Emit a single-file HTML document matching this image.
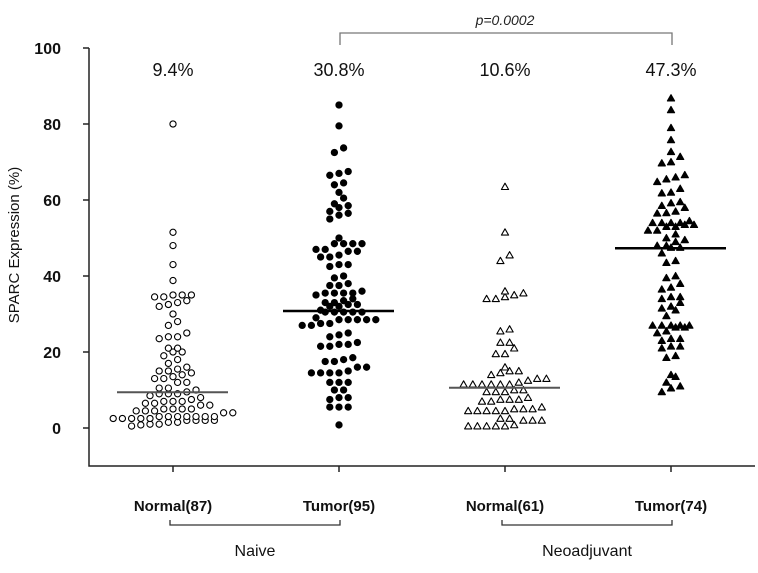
<!DOCTYPE html>
<html><head><meta charset="utf-8"><style>
html,body{margin:0;padding:0;background:#fff;}
svg{display:block;font-family:"Liberation Sans",Arial,sans-serif;}
</style></head><body>
<svg id="chart" width="758" height="573" viewBox="0 0 758 573">
<rect width="758" height="573" fill="#fff"/>
</svg>
<script>
const categories = ["Normal(87)", "Tumor(95)", "Normal(61)", "Tumor(74)"];
const groups = ["Naive", "Neoadjuvant"];
const meanValues = [9.4, 30.8, 10.6, 47.3];
const meanLabels = ["9.4%", "30.8%", "10.6%", "47.3%"];
const yTicks = [0, 20, 40, 60, 80, 100];
const naiveNormal = [80,51.5,48,43,38.8,35,34.5,35,35,34.5,33,32,32.5,33.5,30,28,27,24,23.5,24,25,21,20,20,21,18,17,15.5,19,13,12,13.5,13,12,14,14.5,15,16,15,10.5,10,9,8.5,9,9,9.5,10.5,7,7,6.5,6,6.5,6,7,7.5,8,5,4.5,4.5,4,4,4.5,5,5,5,3,3,3,3,2.5,2.5,2.5,2.5,2.5,3,3,3,2,2,1.5,1,1,1.5,2,2,0.5,0.8];
const naiveTumor = [85,79.5,73.7,72.5,67,66.5,67.5,64.5,64,62,60.5,59,58,58.5,56.5,56,57,55,50,48.5,48.5,48.5,48.5,47,46.5,47,46.5,45.5,45,45,43,43,42.5,39.5,40,38,37.5,37.5,36,35.5,35.5,35.5,35,35.5,34,33.5,33,33,32.5,32,32,32.5,31,30.5,30.5,30.5,30.5,30.5,29,28.5,28.5,28.5,28.5,28.5,27.5,27.5,27,27,25,24.5,24,22.5,22,22,21.5,21.5,18.5,18,17.5,17.5,16,16,14.5,14.5,14.5,14.5,15,12,12,12,10,10,8,8,7.5,5.5,5.5,5.5,0.8];
const neoNormal = [63.5,51.5,45.5,44,35.5,36,34.5,34,34,35,26,25.5,22.5,22.5,21,19.5,19.5,16,15,15,14.5,14,13,12.5,13,12,11.5,11.5,11.5,11.5,11.5,11.5,10,10,9.5,9.5,9.5,7.5,7.5,7,7.5,7,8,5,5,4.5,4.5,4.5,4.5,4.5,5,5.5,2.5,2.5,2,2,2,0.5,0.5,0.5,0.5,0.5,0.8];
const neoTumor = [86.8,83.7,79,75.8,72.7,71.4,69.7,70,66.6,64.8,66,65.5,63,62,61.8,59.2,59.5,58,58.5,57,56.6,56.5,54,54,53.5,53.5,53,53,54,54,54.5,52,51,52,50,49.5,49,48,47.5,47.5,48,46,44,43.5,39.5,40,38,37,36.5,34.5,34.5,34,33,32,31.5,31,29.5,27,27,27,26.5,26.5,27,27,25.5,25,23.5,23.5,23,21.5,21.5,21,19,18.5,14,13.5,12,11,10.5,9.5];
const series = [naiveNormal, naiveTumor, neoNormal, neoTumor];

const NS = "http://www.w3.org/2000/svg";
const svg = document.getElementById("chart");
const y = v => 428 - v * 3.8;
const xc = i => 173 + i * 166;
function mk(tag, attrs, parent){ const e=document.createElementNS(NS,tag); for(const k in attrs) e.setAttribute(k,attrs[k]); (parent||svg).appendChild(e); return e; }

const ax = mk("path",{d:"M89 48 V466 H755",fill:"none",stroke:"#222","stroke-width":1.5});


yTicks.forEach(t=>{
  const tk = mk("line",{x1:83,x2:89,y1:y(t),y2:y(t),stroke:"#222","stroke-width":1.5});
  
  
  const tl = mk("text",{x:61,y:y(t)+6,"text-anchor":"end","font-size":16,"font-weight":"bold",fill:"#111"});
  tl.textContent = t;
  
  
});
const yt = mk("text",{x:0,y:0,transform:"translate(19,245) rotate(-90)","text-anchor":"middle","font-size":15,fill:"#111"});
yt.textContent = "SPARC Expression (%)";



categories.forEach((c,i)=>{
  const tk = mk("line",{x1:xc(i),x2:xc(i),y1:466,y2:472,stroke:"#222","stroke-width":1.5});
  
  
  const tl = mk("text",{x:xc(i),y:511,"text-anchor":"middle","font-size":15,"font-weight":"bold",fill:"#111"});
  tl.textContent = c;
  
  
  const ml = mk("text",{x:xc(i),y:76,"text-anchor":"middle","font-size":18,fill:"#111"});
  ml.textContent = meanLabels[i];
  
  
});
groups.forEach((g,k)=>{
  const x1 = xc(2*k)-3, x2 = xc(2*k+1)+1;
  const br = mk("path",{d:`M${x1} 520 V525 H${x2} V520`,fill:"none",stroke:"#333","stroke-width":1.3});
  
  
  const gl = mk("text",{x:(x1+x2)/2,y:556,"text-anchor":"middle","font-size":16,fill:"#111"});
  gl.textContent = g;
  
  
});
const pb = mk("path",{d:`M${xc(1)+1} 45 V33 H${xc(3)+1} V45`,fill:"none",stroke:"#777","stroke-width":1.3});


const pt = mk("text",{x:(xc(1)+xc(3))/2,y:25,"text-anchor":"middle","font-size":14,"font-style":"italic",fill:"#222"});
pt.textContent = "p=0.0002";



// row-binned dot plot layout
const SP = 9.2, BIN = 1.9;
series.forEach((vals,i)=>{
  const sorted = vals.slice().sort((a,b)=>a-b);
  const rows = [];
  sorted.forEach(v=>{
    const last = rows[rows.length-1];
    if(last && v - last[0] <= BIN) last.push(v); else rows.push([v]);
  });
  rows.forEach(row=>{
    const n = row.length;
    const order = row.map((v,j)=>j).sort((a,b)=>Math.abs(a-(n-1)/2)-Math.abs(b-(n-1)/2));
    row.forEach((v,j)=>{
      const px = xc(i) + (j-(n-1)/2)*SP;
      const py = y(v);
      let m;
      if(i<2){
        m = mk("circle",{cx:px,cy:py,r:3.1,fill:i===1?"#000":"#fff",stroke:"#000","stroke-width":1.1});
      } else {
        m = mk("path",{d:`M${px} ${py-3.5} L${px+3.6} ${py+2.8} L${px-3.6} ${py+2.8} Z`,fill:i===3?"#000":"#fff",stroke:"#000","stroke-width":1.1,"stroke-linejoin":"round"});
      }
      
      
    });
  });
  const ml = mk("line",{x1:xc(i)-56,x2:xc(i)+55,y1:y(meanValues[i]),y2:y(meanValues[i]),stroke:i%2?"#000":"#555","stroke-width":i%2?2.5:2});
  
  
});
</script>
</body></html>
